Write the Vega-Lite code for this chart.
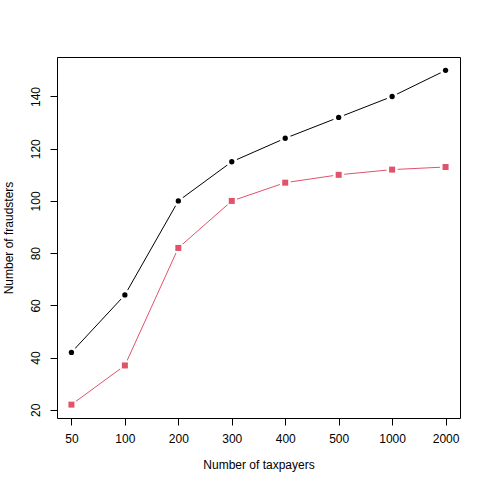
{
  "$schema": "https://vega.github.io/schema/vega-lite/v6.json",
  "autosize": "none",
  "width": 403,
  "height": 361,
  "padding": {"left": 57, "top": 57, "right": 30, "bottom": 72},
  "background": "white",
  "config": {
    "view": {"stroke": "black", "strokeWidth": 1},
    "font": "Liberation Sans",
    "axis": {
      "grid": false,
      "domain": false,
      "tickColor": "black",
      "tickSize": 7,
      "labelFontSize": 12,
      "labelColor": "black",
      "titleFontSize": 12,
      "titleFontWeight": "normal",
      "titleColor": "black",
      "labelPadding": 8
    }
  },
  "data": {
    "values": [
      {"taxpayers": "50", "series": "A", "fraudsters": 42},
      {"taxpayers": "100", "series": "A", "fraudsters": 64},
      {"taxpayers": "200", "series": "A", "fraudsters": 100},
      {"taxpayers": "300", "series": "A", "fraudsters": 115},
      {"taxpayers": "400", "series": "A", "fraudsters": 124},
      {"taxpayers": "500", "series": "A", "fraudsters": 132},
      {"taxpayers": "1000", "series": "A", "fraudsters": 140},
      {"taxpayers": "2000", "series": "A", "fraudsters": 150},
      {"taxpayers": "50", "series": "B", "fraudsters": 22},
      {"taxpayers": "100", "series": "B", "fraudsters": 37},
      {"taxpayers": "200", "series": "B", "fraudsters": 82},
      {"taxpayers": "300", "series": "B", "fraudsters": 100},
      {"taxpayers": "400", "series": "B", "fraudsters": 107},
      {"taxpayers": "500", "series": "B", "fraudsters": 110},
      {"taxpayers": "1000", "series": "B", "fraudsters": 112},
      {"taxpayers": "2000", "series": "B", "fraudsters": 113}
    ]
  },
  "encoding": {
    "x": {
      "field": "taxpayers",
      "type": "ordinal",
      "sort": ["50", "100", "200", "300", "400", "500", "1000", "2000"],
      "scale": {"type": "point", "padding": 0.27},
      "axis": {"title": "Number of taxpayers", "labelAngle": 0, "titlePadding": 15}
    },
    "y": {
      "field": "fraudsters",
      "type": "quantitative",
      "scale": {"domain": [16.88, 155.12], "nice": false, "zero": false},
      "axis": {
        "title": "Number of fraudsters",
        "values": [20, 40, 60, 80, 100, 120, 140],
        "labelAngle": -90,
        "labelAlign": "center",
        "labelBaseline": "bottom",
        "titlePadding": 14
      }
    }
  },
  "layer": [
    {
      "mark": {"type": "line", "strokeWidth": 1},
      "encoding": {
        "color": {
          "field": "series",
          "type": "nominal",
          "scale": {"domain": ["A", "B"], "range": ["black", "#DF536B"]},
          "legend": null
        }
      }
    },
    {
      "mark": {"type": "point", "shape": "circle", "filled": true, "color": "white", "opacity": 1, "size": 128}
    },
    {
      "mark": {"type": "point", "filled": true, "opacity": 1},
      "encoding": {
        "color": {
          "field": "series",
          "type": "nominal",
          "scale": {"domain": ["A", "B"], "range": ["black", "#DF536B"]},
          "legend": null
        },
        "shape": {
          "field": "series",
          "type": "nominal",
          "scale": {"domain": ["A", "B"], "range": ["circle", "square"]},
          "legend": null
        },
        "size": {
          "field": "series",
          "type": "nominal",
          "scale": {"domain": ["A", "B"], "range": [28, 36]},
          "legend": null
        }
      }
    }
  ]
}
